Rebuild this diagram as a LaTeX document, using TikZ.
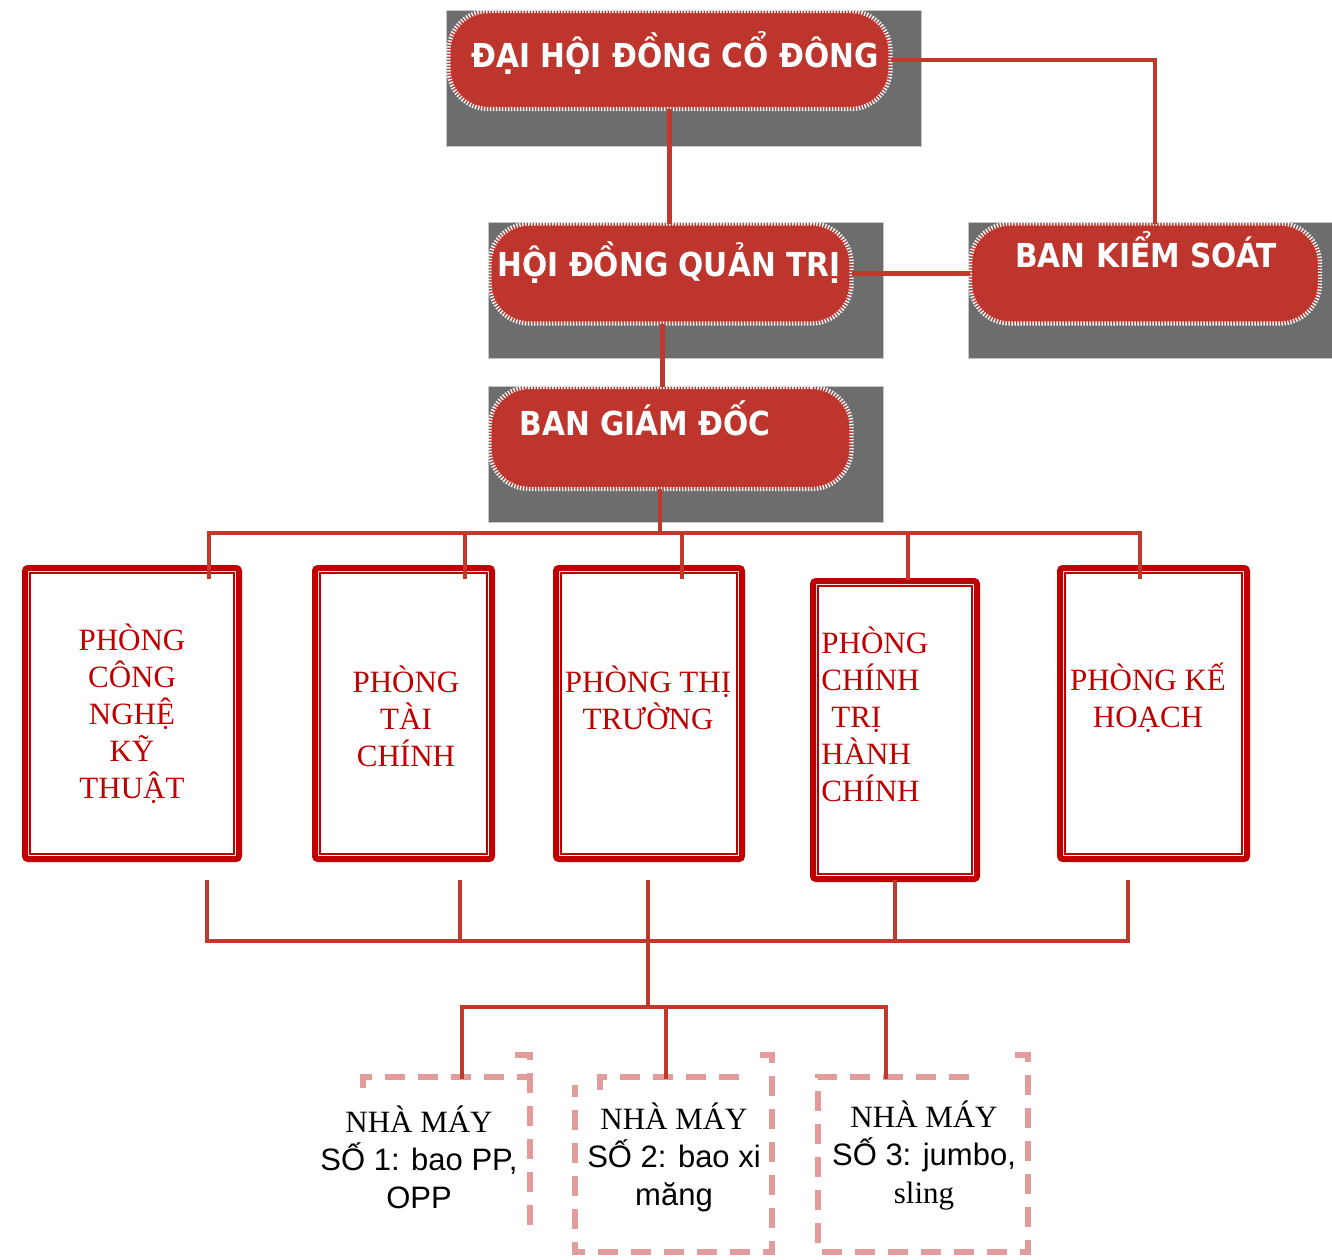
\documentclass[tikz,border=0pt]{standalone}
\usepackage{fontspec}
\setmainfont{Liberation Serif}
\newfontfamily\arialfont{Liberation Sans}
\newfontfamily\pillfont{DejaVu Sans Condensed Bold}

\definecolor{pillred}{HTML}{BE352D}
\definecolor{linkred}{HTML}{C0392B}
\definecolor{deptred}{HTML}{C00000}
\definecolor{shadegray}{HTML}{6D6D6D}
\definecolor{dashpink}{HTML}{E29C9C}

\begin{document}
\begin{tikzpicture}[
    x=0.5pt, y=-0.5pt,
    backdrop/.style={fill=shadegray, draw=gray!45, line width=0.5pt},
    pill/.style={fill=pillred, draw=white!92!gray, line width=2.2pt,
        dash pattern=on 0.7pt off 0.8pt, rounded corners=20pt, inner sep=0pt},
    pilltext/.style={text=white, font=\pillfont\fontsize{16.5}{20}\selectfont, anchor=base, inner sep=0pt},
    dept/.style={draw=deptred, fill=white, line width=3pt, rounded corners=1.5pt, inner sep=0pt},
    deptinner/.style={draw=deptred, line width=0.9pt},
    depttext/.style={text=deptred, font=\fontsize{15.5}{18.5}\selectfont, align=center, inner sep=0pt},
    frame/.style={draw=dashpink, line width=3.4pt, dash pattern=on 10pt off 6.5pt},
    facttext/.style={font=\fontsize{15.5}{19}\selectfont, align=center, inner sep=0pt},
    link/.style={draw=linkred, line width=2.2pt, line cap=rect},
]
\useasboundingbox (0,0) rectangle (1332,1259);

% grey backing plates
\fill[backdrop] (446,10) rectangle (921,146);
\fill[backdrop] (488,222) rectangle (883,358);
\fill[backdrop] (968,222) rectangle (1332,358);
\fill[backdrop] (488,386) rectangle (883,522);
\draw[backdrop, fill=none] (446,10) rectangle (921,146);
\draw[backdrop, fill=none] (488,222) rectangle (883,358);
\draw[backdrop, fill=none] (968,222) rectangle (1332,358);
\draw[backdrop, fill=none] (488,386) rectangle (883,522);

% top levels
\node[pill, minimum width=221pt, minimum height=49pt] (dhdcd) at (669.5,60) {};
\node[pill, minimum width=181pt, minimum height=50pt] (hdqt) at (670.5,273.5) {};
\node[pill, minimum width=175pt, minimum height=50pt] (bks) at (1145,273.5) {};
\node[pill, minimum width=181pt, minimum height=51pt] (bgd) at (670.5,438) {};

\node[pilltext] (dhdcd-t) at (675,67) {ĐẠI HỘI ĐỒNG CỔ ĐÔNG};
\node[pilltext] (hdqt-t) at (669,276) {HỘI ĐỒNG QUẢN TRỊ};
\node[pilltext] (bks-t) at (1146,267) {BAN KIỂM SOÁT};
\node[pilltext] (bgd-t) at (645,435) {BAN GIÁM ĐỐC};

% departments
\node[dept, minimum width=107pt, minimum height=145.5pt] (p1) at (132,713.5) {};
\node[dept, minimum width=88.5pt, minimum height=145.5pt] (p2) at (403.5,713.5) {};
\node[dept, minimum width=93pt, minimum height=145.5pt] (p3) at (649,713.5) {};
\node[dept, minimum width=82pt, minimum height=149pt] (p4) at (895,730) {};
\node[dept, minimum width=93.5pt, minimum height=145.5pt] (p5) at (1153.5,713.5) {};
\foreach \i in {1,...,5} {
    \draw[deptinner] ([shift={(4pt,-4pt)}]p\i.north west) rectangle ([shift={(-4pt,4pt)}]p\i.south east);
}

\node[depttext] (t1) at (132,714) {PHÒNG\\CÔNG\\NGHỆ\\KỸ\\THUẬT};
\node[depttext] (t2) at (406,716) {PHÒNG\\TÀI\\CHÍNH};
\node[depttext] (t3) at (648,698) {PHÒNG THỊ\\TRƯỜNG};
\node[depttext, align=left, anchor=west] (t4) at (821,714) {PHÒNG\\CHÍNH\\\hspace*{5pt}TRỊ\\HÀNH\\CHÍNH};
\node[depttext] (t5) at (1148,698) {PHÒNG KẾ\\HOẠCH};

% factories
\draw[frame] (363,1088) -- (363,1077) -- (533,1077);
\draw[frame] (515,1055) -- (530,1055) -- (530,1227);
\draw[frame] (600,1090) -- (600,1077) -- (752,1077);
\draw[frame] (760,1055) -- (772,1055) -- (772,1252) -- (575,1252) -- (575,1085);
\draw[frame] (1015,1055) -- (1028,1055) -- (1028,1252) -- (818,1252) -- (818,1077) -- (975,1077);

\node[facttext] (nm1) at (419,1157) {NHÀ MÁY\\{\arialfont SỐ 1: bao PP,}\\{\arialfont OPP}};
\node[facttext] (nm2) at (674,1157) {NHÀ MÁY\\{\arialfont SỐ 2: bao xi}\\{\arialfont măng}};
\node[facttext] (nm3) at (924,1156) {NHÀ MÁY\\{\arialfont SỐ 3: jumbo,}\\sling};

\coordinate (f1) at (462,1077);
\coordinate (f2) at (666,1077);
\coordinate (f3) at (886,1077);

% connectors, upper part
\draw[link] (dhdcd.south) -- (dhdcd.south |- hdqt.north);
\draw[link] (dhdcd.east) -| ([xshift=5pt]bks.north);
\draw[link] (hdqt.east) -- (hdqt.east -| bks.west);
\draw[link] ([xshift=-4pt]hdqt.south) -- ([xshift=-4pt]hdqt.south |- bgd.north);

\coordinate (busA) at (660,533);
\coordinate (a1) at (209,533);
\coordinate (a2) at (465,533);
\coordinate (a3) at (682,533);
\coordinate (a4) at (908,533);
\coordinate (a5) at (1140,533);
\draw[link] (bgd.south -| busA) -- (busA);
\draw[link] (a1) -- (a5);
\foreach \i in {1,2,3,5} {
    \draw[link] (a\i) -- ([yshift=-6pt]a\i |- p\i.north);
}
\draw[link] (a4) -- (a4 |- p4.north);

% connectors, lower part
\coordinate (b1) at (207,941);
\coordinate (b2) at (460,941);
\coordinate (b3) at (648,941);
\coordinate (b4) at (895,941);
\coordinate (b5) at (1128,941);
\foreach \i in {1,2,3,5} {
    \draw[link] ([yshift=-10pt]b\i |- p\i.south) -- (b\i);
}
\draw[link] (b4 |- p4.south) -- (b4);
\draw[link] (b1) -- (b5);

\coordinate (busB) at (648,1007);
\coordinate (c1) at (462,1007);
\coordinate (c2) at (666,1007);
\coordinate (c3) at (886,1007);
\draw[link] (b3) -- (busB);
\draw[link] (c1) -- (c3);
\foreach \i in {1,2,3} {
    \draw[link] (c\i) -- (f\i);
}
\end{tikzpicture}
\end{document}
